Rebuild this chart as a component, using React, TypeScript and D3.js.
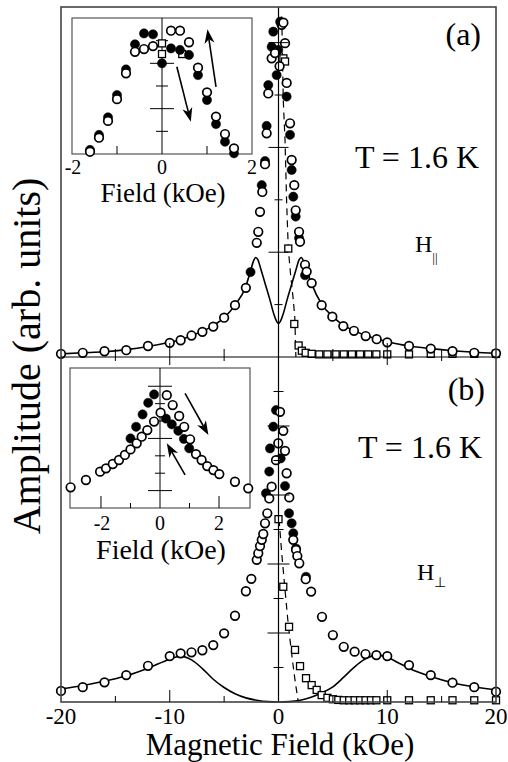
import React, { useEffect, useRef } from "react";
import * as d3 from "d3";

type Pt = [number, number];

// ---- panel (a), H parallel ----
const openA: Pt[] = [
  [-20, 0.06], [-18, 0.08], [-16, 0.11], [-14, 0.13], [-12, 0.21], [-10, 0.27],
  [-9, 0.32], [-8, 0.41], [-7, 0.48], [-6, 0.58], [-5, 0.75], [-4, 0.99], [-3, 1.32],
  [-2.0, 2.18], [-1.86, 2.39], [-1.7, 2.77], [-1.49, 3.15], [-1.24, 3.68], [-1.09, 4.27],
  [-0.94, 5.03], [-0.63, 5.7], [-0.32, 5.8], [0.1, 5.55], [0.29, 6.34], [0.45, 6.38],
  [0.6, 5.99], [0.75, 5.23], [1.06, 4.46], [1.21, 3.76], [1.45, 3.28], [1.58, 2.8],
  [1.89, 2.39], [1.98, 2.2], [2.44, 1.76], [2.59, 1.63], [3.05, 1.41], [3.97, 0.99],
  [4.95, 0.77], [5.96, 0.59], [6.94, 0.5], [8.02, 0.4], [9.03, 0.34], [10, 0.28],
  [12, 0.21], [14, 0.16], [16, 0.11], [18, 0.08], [20, 0.07],
];
const filledA: Pt[] = [
  [-2.57, 1.62], [-1.54, 3.28], [-1.24, 3.74], [-1.09, 4.41], [-0.94, 5.19],
  [-0.63, 5.92], [-0.48, 6.21], [-0.17, 5.38], [-0.02, 5.86], [0.15, 6.4],
  [0.75, 4.97], [1.06, 4.24], [1.21, 3.57], [1.36, 3.06], [1.58, 2.68], [1.89, 2.27],
  [2.44, 1.56],
];
const squaresA: Pt[] = [
  [0.45, 5.7], [0.6, 5.64], [0.9, 2.07], [1.45, 0.63], [1.85, 0.22], [2.15, 0.12],
  [2.5, 0.08], [3.05, 0.06], [3.75, 0.05], [4.5, 0.05], [5.25, 0.05], [6, 0.05],
  [6.75, 0.05], [7.5, 0.05], [8.25, 0.05], [9, 0.05], [10, 0.05], [12, 0.05],
  [14, 0.06], [16, 0.06], [18, 0.06], [20, 0.06],
];
const fitA: Pt[] = [
  [-20, 0.06], [-18, 0.08], [-16, 0.1], [-14, 0.14], [-12, 0.2], [-10, 0.28], [-9, 0.33],
  [-8, 0.41], [-7, 0.49], [-6, 0.6], [-5, 0.75], [-4, 0.99], [-3, 1.35], [-2.6, 1.62],
  [-2.3, 1.83], [-2.1, 1.9], [-1.9, 1.86], [-1.6, 1.66], [-1.2, 1.38], [-0.8, 1.1],
  [-0.4, 0.8], [-0.15, 0.67], [0, 0.64], [0.15, 0.67], [0.4, 0.8], [0.8, 1.1],
  [1.2, 1.38], [1.6, 1.66], [1.9, 1.86], [2.1, 1.9], [2.3, 1.83], [2.6, 1.66],
  [3, 1.42], [4, 1.0], [5, 0.77], [6, 0.6], [7, 0.5], [8, 0.41], [9, 0.35], [10, 0.29],
  [12, 0.21], [14, 0.16], [16, 0.12], [18, 0.09], [20, 0.07],
];
const dashA: Pt[] = [
  [0.3, 6.5], [0.44, 4.9], [0.6, 4.14], [0.75, 2.94], [0.9, 2.07], [1.1, 1.6],
  [1.36, 1.09], [1.5, 0.75], [1.56, 0.3], [1.6, 0],
];

// inset of (a)
const insetOpenA: Pt[] = [
  [-1.6, 0.1], [-1.4, 0.72], [-1.2, 1.46], [-1.0, 2.42], [-0.8, 3.56], [-0.6, 4.51],
  [-0.4, 4.63], [-0.2, 4.76], [0.2, 5.44], [0.4, 5.44], [0.6, 4.93], [0.8, 3.81],
  [1.0, 2.72], [1.2, 1.65], [1.4, 0.88], [1.6, 0.25],
];
const insetFilledA: Pt[] = [
  [-1.6, 0.18], [-1.4, 0.84], [-1.2, 1.62], [-1.0, 2.6], [-0.8, 3.73], [-0.6, 4.84],
  [-0.4, 5.32], [-0.2, 5.28], [0, 4.0], [0.2, 4.66], [0.4, 4.59], [0.6, 4.37],
  [0.8, 3.48], [1.0, 2.38], [1.2, 1.32], [1.4, 0.54], [1.6, 0.03],
];
const insetSquaresA: Pt[] = [[0, 4.88], [0, 4.41], [0.45, 4.41]];
const arrowsA = [[0.33, 3.85, 0.64, 1.42], [1.2, 2.96, 1.01, 5.5]];

// ---- panel (b), H perpendicular ----
const openB: Pt[] = [
  [-20, 0.32], [-18, 0.43], [-16, 0.57], [-14, 0.78], [-12, 1.05], [-10, 1.33],
  [-9, 1.41], [-8, 1.44], [-7, 1.5], [-6, 1.65], [-5, 1.99], [-4, 2.5], [-3, 3.21],
  [-2.5, 3.57], [-2.0, 4.12], [-1.86, 4.31], [-1.7, 4.52], [-1.54, 4.7], [-1.4, 4.87],
  [-1.24, 5.18], [-1.03, 5.47], [-0.85, 5.9], [-0.63, 6.24], [-0.23, 7.01],
  [-0.02, 7.5], [0.14, 8.41], [0.44, 7.86], [0.6, 7.28], [0.75, 6.63], [0.99, 5.93],
  [1.36, 4.7], [1.61, 4.41], [1.73, 4.23], [1.91, 4.02], [2.5, 3.56], [3.0, 3.2],
  [4, 2.47], [5, 1.94], [6, 1.6], [7, 1.46], [8, 1.39], [9, 1.36], [10, 1.33],
  [12, 1.07], [14, 0.78], [16, 0.56], [18, 0.43], [20, 0.3],
];
const filledB: Pt[] = [
  [-0.23, 8.46], [-0.48, 7.98], [-0.78, 7.35], [0.2, 7.06], [-0.85, 6.68], [0.6, 6.26],
  [-1.15, 6.05], [0.97, 5.47], [1.21, 5.18], [1.36, 4.89], [1.61, 4.45], [2.53, 3.63],
];
const squaresB: Pt[] = [
  [0, 5.3], [0.44, 3.34], [0.97, 2.18], [1.52, 1.51], [1.98, 1.04], [2.53, 0.69],
  [3.05, 0.49], [3.51, 0.35], [3.97, 0.2], [4.5, 0.12], [5, 0.08], [5.5, 0.06],
  [6, 0.05], [6.5, 0.05], [7, 0.05], [7.5, 0.05], [8, 0.05], [8.5, 0.05], [9, 0.05],
  [10, 0.05], [12, 0.05], [14, 0.05], [16, 0.05], [18, 0.05], [20, 0.05],
];
const fitB: Pt[] = [
  [-20, 0.38], [-18, 0.48], [-16, 0.6], [-14, 0.76], [-12, 0.98], [-10, 1.24], [-9, 1.33],
  [-8, 1.22], [-7, 0.97], [-6, 0.66], [-5, 0.42], [-4, 0.24], [-3, 0.12], [-2, 0.05],
  [-1, 0.01], [0, 0], [1, 0.01], [2, 0.05], [3, 0.14], [4, 0.27], [5, 0.44], [6, 0.72],
  [7, 1.02], [8, 1.25], [9, 1.36], [10, 1.3], [11, 1.14], [12, 0.98], [14, 0.74],
  [16, 0.56], [18, 0.44], [20, 0.35],
];
const dashB: Pt[] = [
  [0.05, 5.3], [0.3, 4.3], [0.6, 3.25], [0.85, 2.4], [1.06, 1.8], [1.25, 1.3],
  [1.43, 0.84], [1.65, 0.35], [1.82, 0],
];

// inset of (b)
const insetOpenB: Pt[] = [
  [-3.03, 1.19], [-2.51, 1.61], [-2.03, 2.09], [-1.83, 2.28], [-1.6, 2.53], [-1.39, 2.76],
  [-1.19, 3.05], [-1.0, 3.37], [-0.79, 3.72], [-0.62, 4.1], [-0.43, 4.48], [-0.2, 4.97],
  [0.02, 5.48], [0.23, 6.49], [0.43, 5.92], [0.65, 5.29], [0.82, 4.67], [1.02, 3.95],
  [1.22, 3.1], [1.41, 2.76], [1.6, 2.41], [1.81, 2.18], [2.01, 1.95], [2.54, 1.51],
  [2.99, 1.13],
];
const insetFilledB: Pt[] = [
  [-1.0, 4.0], [-0.81, 4.67], [-0.59, 5.38], [-0.4, 6.05], [-0.2, 6.53],
  [0.2, 5.14], [0.4, 4.81], [0.62, 4.44], [0.81, 3.97], [0.99, 3.43],
];
const arrowsB = [[0.85, 6.59, 1.64, 4.2], [0.85, 1.9, 0.23, 3.72]];

const xTickLabels = [-20, -10, 0, 10, 20];
const xMinorTicks = [-15, -10, -5, 5, 10, 15];
const insetLabels = [-2, 0, 2];

const FONT = "'Liberation Serif', 'Times New Roman', serif";

function App() {
  const ref = useRef<SVGSVGElement>(null);

  useEffect(() => {
    const svg = d3.select(ref.current);
    svg.selectAll("*").remove();

    const L = 61, R = 496, T = 7, M = 357, B = 702;
    const x = d3.scaleLinear().domain([-20, 20]).range([L, R]);
    const yA = d3.scaleLinear().domain([0, 6.68]).range([M, T]);
    const yB = d3.scaleLinear().domain([0, 10]).range([B, M]);

    const g = svg.append("g");

    const points = (data: Pt[], xs: any, ys: any, kind: string) => {
      if (kind === "square") {
        g.append("g").selectAll("rect").data(data).enter().append("rect")
          .attr("x", d => xs(d[0]) - 3.5).attr("y", d => ys(d[1]) - 3.5)
          .attr("width", 7).attr("height", 7)
          .attr("fill", "white").attr("stroke", "black").attr("stroke-width", 1.3);
      } else {
        g.append("g").selectAll("circle").data(data).enter().append("circle")
          .attr("cx", d => xs(d[0])).attr("cy", d => ys(d[1]))
          .attr("r", kind === "open" ? 4.3 : 4.6)
          .attr("fill", kind === "open" ? "white" : "black")
          .attr("stroke", "black").attr("stroke-width", kind === "open" ? 1.7 : 0.5);
      }
    };

    const curve = (data: Pt[], xs: any, ys: any, dash?: string) => {
      const line = d3.line<Pt>().x(d => xs(d[0])).y(d => ys(d[1]))
        .curve(dash ? d3.curveLinear : d3.curveMonotoneX);
      g.append("path").attr("d", line(data)!)
        .attr("fill", "none").attr("stroke", "black")
        .attr("stroke-width", dash ? 1.2 : 1.6)
        .attr("stroke-dasharray", dash || null);
    };

    const seg = (x1: number, y1: number, x2: number, y2: number, w = 1, c = "black") => {
      g.append("line").attr("x1", x1).attr("y1", y1).attr("x2", x2).attr("y2", y2)
        .attr("stroke", c).attr("stroke-width", w);
    };

    const text = (s: string, tx: number, ty: number, size: number, anchor = "middle") =>
      g.append("text").attr("x", tx).attr("y", ty).attr("font-size", size)
        .attr("font-family", FONT).attr("text-anchor", anchor).text(s);

    const arrow = (a: number[], xs: any, ys: any) => {
      const x1 = xs(a[0]), y1 = ys(a[1]), x2 = xs(a[2]), y2 = ys(a[3]);
      const ang = Math.atan2(y2 - y1, x2 - x1);
      const hl = 14, hw = 5;
      const bx = x2 - hl * Math.cos(ang), by = y2 - hl * Math.sin(ang);
      const nx = bx + 4 * Math.cos(ang), ny = by + 4 * Math.sin(ang);
      seg(x1, y1, nx, ny, 1.6);
      const px = -Math.sin(ang) * hw, py = Math.cos(ang) * hw;
      g.append("path")
        .attr("d", `M${x2},${y2}L${bx + px},${by + py}L${nx},${ny}L${bx - px},${by - py}Z`)
        .attr("fill", "black");
    };

    // ---- panel (a) ----
    curve(fitA, x, yA);
    curve(dashA, x, yA, "7,5");
    points(squaresA, x, yA, "square");
    points(filledA, x, yA, "filled");
    points(openA, x, yA, "open");

    // ---- panel (b) ----
    curve(fitB, x, yB);
    curve(dashB, x, yB, "7,5");
    points(squaresB, x, yB, "square");
    points(filledB, x, yB, "filled");
    points(openB, x, yB, "open");

    // center line and its ticks
    seg(x(0), T, x(0), B, 1.2);
    d3.range(1, 7).forEach(v => {
      const h = v % 2 === 0 ? 10 : 4;
      seg(x(0) - h, yA(v), x(0) + h, yA(v), 1);
    });
    d3.range(1, 10).forEach(v => {
      const h = v % 2 === 0 ? 11 : 5;
      seg(x(0) - h, yB(v), x(0) + h, yB(v), 1);
    });

    // frame
    g.append("rect").attr("x", L).attr("y", T).attr("width", R - L).attr("height", B - T)
      .attr("fill", "none").attr("stroke", "#444").attr("stroke-width", 1.6);
    seg(L, M, R, M, 1.2);

    xMinorTicks.forEach(t => {
      const major = t % 10 === 0;
      seg(x(t), M, x(t), M - (major ? 14 : 8), 1);
      seg(x(t), M, x(t), M + (major ? 8 : 4), 1);
      seg(x(t), B, x(t), B - (major ? 12 : 6), 1);
    });

    // ---- inset (a) ----
    const xiA = d3.scaleLinear().domain([-2, 2]).range([72, 252]);
    const yiA = d3.scaleLinear().domain([0, 6]).range([154, 18]);
    g.append("rect").attr("x", 72).attr("y", 18).attr("width", 180).attr("height", 136)
      .attr("fill", "white").attr("stroke", "#555").attr("stroke-width", 1.2);
    seg(xiA(0), yiA(6), xiA(0), yiA(0), 1);
    d3.range(1, 6).forEach(v => {
      const h = v % 2 === 0 ? 12 : 6;
      seg(xiA(0) - h, yiA(v), xiA(0) + h, yiA(v), 1);
    });
    [-1, 1].forEach(t => seg(xiA(t), yiA(0), xiA(t), yiA(0) - 8, 1));
    points(insetSquaresA, xiA, yiA, "square");
    points(insetFilledA, xiA, yiA, "filled");
    points(insetOpenA, xiA, yiA, "open");
    arrowsA.forEach(a => arrow(a, xiA, yiA));
    insetLabels.forEach(t => text(String(t), xiA(t) + (t < 0 ? 1 : 0), 174, 20));
    text("Field (kOe)", 163, 202, 27);

    // ---- inset (b) ----
    const xiB = d3.scaleLinear().domain([-3.05, 3.05]).range([70, 250]);
    const yiB = d3.scaleLinear().domain([0, 8.05]).range([508, 368]);
    g.append("rect").attr("x", 70).attr("y", 368).attr("width", 180).attr("height", 140)
      .attr("fill", "white").attr("stroke", "#555").attr("stroke-width", 1.2);
    seg(xiB(0), yiB(8.05), xiB(0), yiB(0), 1);
    d3.range(1, 8).forEach(v => {
      const h = (v - 1) % 3 === 0 ? 12 : 5;
      seg(xiB(0) - h, yiB(v), xiB(0) + h, yiB(v), 1);
    });
    [-2, -1, 1, 2].forEach(t => {
      seg(xiB(t), yiB(0), xiB(t), yiB(0) - (Math.abs(t) === 2 ? 12 : 5), 1);
    });
    points(insetFilledB, xiB, yiB, "filled");
    points(insetOpenB, xiB, yiB, "open");
    arrowsB.forEach(a => arrow(a, xiB, yiB));
    insetLabels.forEach(t => text(String(t), xiB(t) + (t < 0 ? 1 : 0), 530, 20));
    text("Field (kOe)", 161, 559, 28);

    // ---- labels ----
    text("(a)", 481, 45, 32, "end");
    text("T = 1.6 K", 479, 168, 32, "end");
    const h1 = g.append("text").attr("x", 415).attr("y", 252).attr("font-size", 24)
      .attr("font-family", FONT);
    h1.append("tspan").text("H");
    h1.append("tspan").attr("font-size", 13).attr("dy", 10).text("||");

    text("(b)", 485, 400, 32, "end");
    text("T = 1.6 K", 482, 458, 32, "end");
    const h2 = g.append("text").attr("x", 417).attr("y", 580).attr("font-size", 24)
      .attr("font-family", FONT);
    h2.append("tspan").text("H");
    h2.append("tspan").attr("font-size", 14).attr("dy", 7).text("\u22A5");

    xTickLabels.forEach(t => text(String(t), x(t), 724, 23));
    text("Magnetic Field (kOe)", 280, 755, 31);
    g.append("text").attr("transform", "translate(40,356) rotate(-90)")
      .attr("font-size", 40).attr("font-family", FONT).attr("text-anchor", "middle")
      .text("Amplitude (arb. units)");
  }, []);

  return (
    <svg ref={ref} width={508} height={762}
      style={{ position: "absolute", left: 0, top: 0, background: "white" }} />
  );
}

export default App;
